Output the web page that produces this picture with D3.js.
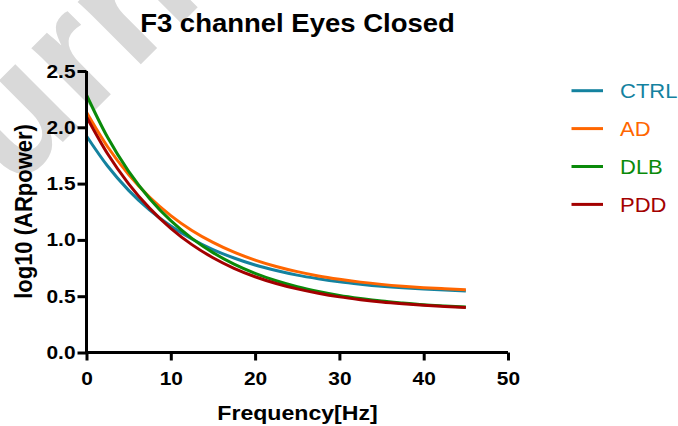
<!DOCTYPE html>
<html>
<head>
<meta charset="utf-8">
<script src="https://cdn.jsdelivr.net/npm/d3@7"></script>
<style>
  html, body { margin: 0; padding: 0; background: #ffffff; }
  svg { display: block; }
  text { font-family: "Liberation Sans", Arial, Helvetica, sans-serif; }
</style>
</head>
<body>
<svg id="chart" width="678" height="426"></svg>
<script>
// Frequency grid (Hz) and fitted log10 AR power per group
const freqs = [0, 2.5, 5, 7.5, 10, 12.5, 15, 17.5, 20, 22.5, 25, 27.5, 30, 32.5, 35, 37.5, 40, 42.5, 45];
const ctrl = [1.923, 1.656, 1.440, 1.265, 1.123, 1.008, 0.914, 0.839, 0.777, 0.728, 0.687, 0.655, 0.628, 0.607, 0.589, 0.575, 0.564, 0.555, 0.547];
const ad   = [2.133, 1.827, 1.580, 1.379, 1.216, 1.084, 0.978, 0.891, 0.821, 0.764, 0.718, 0.680, 0.650, 0.625, 0.605, 0.589, 0.576, 0.566, 0.557];
const dlb  = [2.287, 1.911, 1.609, 1.366, 1.171, 1.014, 0.887, 0.785, 0.703, 0.637, 0.584, 0.542, 0.507, 0.480, 0.457, 0.440, 0.425, 0.414, 0.404];
const pdd  = [2.094, 1.765, 1.498, 1.280, 1.103, 0.958, 0.842, 0.748, 0.673, 0.613, 0.565, 0.526, 0.494, 0.469, 0.448, 0.432, 0.419, 0.408, 0.399];

const groups = ["CTRL", "AD", "DLB", "PDD"];
const colors = ["#14829f", "#ff6600", "#0a8a0a", "#a30000"];
const seriesValues = [ctrl, ad, dlb, pdd];

const xTicks = [0, 10, 20, 30, 40, 50];
const yTicks = [0.0, 0.5, 1.0, 1.5, 2.0, 2.5];

const titleText = "F3 channel Eyes Closed";
const xTitle = "Frequency[Hz]";
const yTitle = "log10 (ARpower)";
const watermark = "Journal Pre-proof";

const svg = d3.select("#chart");
const W = 678, H = 426;
const plot = { left: 86.5, right: 508, top: 71, bottom: 352.5 };
const SX = 1.1; // horizontal stretch of the lettering

svg.append("rect").attr("width", W).attr("height", H).attr("fill", "#ffffff");

// faint diagonal watermark behind everything
svg.append("text")
  .attr("transform", "translate(-125,330) rotate(-45)")
  .attr("font-size", 168)
  .attr("font-weight", "bold")
  .attr("fill", "#d9d9d9")
  .text(watermark);

const x = d3.scaleLinear().domain([0, 50]).range([plot.left, plot.right]);
const y = d3.scaleLinear().domain([0, 2.5]).range([plot.bottom, plot.top]);

// curves
const line = d3.line()
  .x(d => x(d[0]))
  .y(d => y(d[1]))
  .curve(d3.curveMonotoneX);

seriesValues.forEach((vals, i) => {
  svg.append("path")
    .datum(freqs.map((f, j) => [f, vals[j]]))
    .attr("fill", "none")
    .attr("stroke", colors[i])
    .attr("stroke-width", 3)
    .attr("d", line);
});

// axes
const yAxis = svg.append("g")
  .attr("transform", `translate(${plot.left},0)`)
  .call(d3.axisLeft(y).tickValues(yTicks).tickFormat(d3.format(".1f"))
    .tickSize(9).tickSizeOuter(0).tickPadding(1));

const xAxis = svg.append("g")
  .attr("transform", `translate(0,${plot.bottom})`)
  .call(d3.axisBottom(x).tickValues(xTicks).tickFormat(d3.format("d"))
    .tickSize(8).tickSizeOuter(0).tickPadding(11));

[yAxis, xAxis].forEach(g => {
  g.select(".domain").attr("stroke", "#000").attr("stroke-width", 3);
  g.selectAll(".tick line").attr("stroke", "#000").attr("stroke-width", 3);
  g.selectAll(".tick text")
    .attr("fill", "#000")
    .attr("font-size", 19)
    .attr("font-weight", "bold")
    .attr("font-family", "Liberation Sans, Arial, sans-serif");
});
yAxis.selectAll(".tick text").attr("transform", `scale(${SX},1)`);
xAxis.selectAll(".tick text").attr("transform", `scale(${SX},1)`);
// join the two axis lines at the origin
yAxis.select(".domain").attr("d", `M0,${plot.bottom + 1.5}V${plot.top}`);
xAxis.select(".domain").attr("d", `M${plot.left - 1.5},0H${plot.right}`);

// titles
svg.append("text")
  .attr("transform", `translate(297.5,32) scale(${SX},1)`)
  .attr("text-anchor", "middle")
  .attr("font-size", 25)
  .attr("font-weight", "bold")
  .attr("fill", "#000")
  .text(titleText);

svg.append("text")
  .attr("transform", `translate(297.5,420) scale(${SX},1)`)
  .attr("text-anchor", "middle")
  .attr("font-size", 21)
  .attr("font-weight", "bold")
  .attr("fill", "#000")
  .text(xTitle);

svg.append("text")
  .attr("transform", `translate(32,211.5) scale(${SX},1) rotate(-90)`)
  .attr("text-anchor", "middle")
  .attr("font-size", 22)
  .attr("font-weight", "bold")
  .attr("fill", "#000")
  .text(yTitle);

// legend
const legend = svg.append("g");
groups.forEach((name, i) => {
  const ly = 90.7 + i * 37.9;
  legend.append("line")
    .attr("x1", 571.5).attr("x2", 603)
    .attr("y1", ly).attr("y2", ly)
    .attr("stroke", colors[i]).attr("stroke-width", 3);
  legend.append("text")
    .attr("transform", `translate(620,${ly + 7.2}) scale(${SX},1)`)
    .attr("font-size", 20)
    .attr("fill", colors[i])
    .text(name);
});
</script>
</body>
</html>
